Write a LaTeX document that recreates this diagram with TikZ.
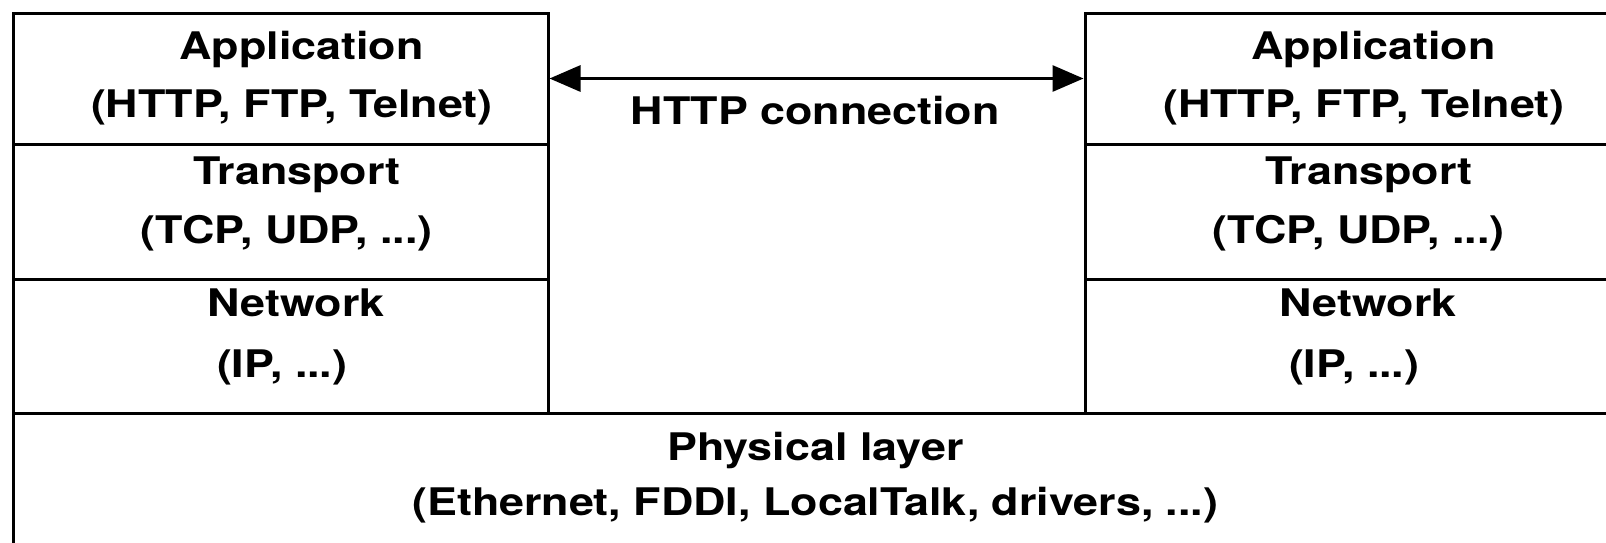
\documentclass[tikz,border=0pt]{standalone}
\usepackage{fontspec}
\setmainfont{TeX Gyre Heros}
\newfontfamily\lblfont[FakeStretch=1.18]{TeX Gyre Heros}
\usetikzlibrary{arrows.meta}
\begin{document}
\begin{tikzpicture}[x=1pt,y=-1pt,
  layer/.style={draw, line width=3pt, inner sep=0pt},
  lbl/.style={anchor=base, inner sep=0pt, font={\lblfont\fontsize{38pt}{40pt}\selectfont\bfseries}},
  conn/.style={line width=3pt, {Triangle[length=31pt,width=26pt]}-{Triangle[length=31pt,width=26pt]}}]
\useasboundingbox (0,0) rectangle (1606,542);
% left stack
\node[layer, minimum width=535pt, minimum height=131pt] (appL) at (280.5,78.5) {};
\node[layer, minimum width=535pt, minimum height=135pt] (trL) at (280.5,211.5) {};
\node[layer, minimum width=535pt, minimum height=134pt] (nwL) at (280.5,346) {};
% right stack
\node[layer, minimum width=540pt, minimum height=131pt] (appR) at (1355,78.5) {};
\node[layer, minimum width=540pt, minimum height=135pt] (trR) at (1355,211.5) {};
\node[layer, minimum width=540pt, minimum height=134pt] (nwR) at (1355,346) {};
% physical layer
\node[layer, minimum width=1612pt, minimum height=133pt] (phys) at (819,479.5) {};
% connection
\draw[conn] (appL.east) -- (appR.west);
% labels
\node[lbl] (appLa) at (301.6,59) {Application};
\node[lbl] (appLb) at (291.9,117.5) {(HTTP, FTP, Telnet)};
\node[lbl] (trLa) at (297,184.5) {Transport};
\node[lbl] (trLb) at (286.8,243) {(TCP, UDP, ...)};
\node[lbl] (nwLa) at (296,316.5) {Network};
\node[lbl] (nwLb) at (282.2,377) {(IP, ...)};
\node[lbl] (appRa) at (1373.6,59) {Application};
\node[lbl] (appRb) at (1363.9,117.5) {(HTTP, FTP, Telnet)};
\node[lbl] (trRa) at (1369,184.5) {Transport};
\node[lbl] (trRb) at (1358.8,243) {(TCP, UDP, ...)};
\node[lbl] (nwRa) at (1368,316.5) {Network};
\node[lbl] (nwRb) at (1354.2,377) {(IP, ...)};
\node[lbl] (physa) at (815.3,460) {Physical layer};
\node[lbl] (physb) at (815.3,515) {(Ethernet, FDDI, LocalTalk, drivers, ...)};
\node[lbl] (httpc) at (815.3,124.5) {HTTP connection};
\end{tikzpicture}
\end{document}
